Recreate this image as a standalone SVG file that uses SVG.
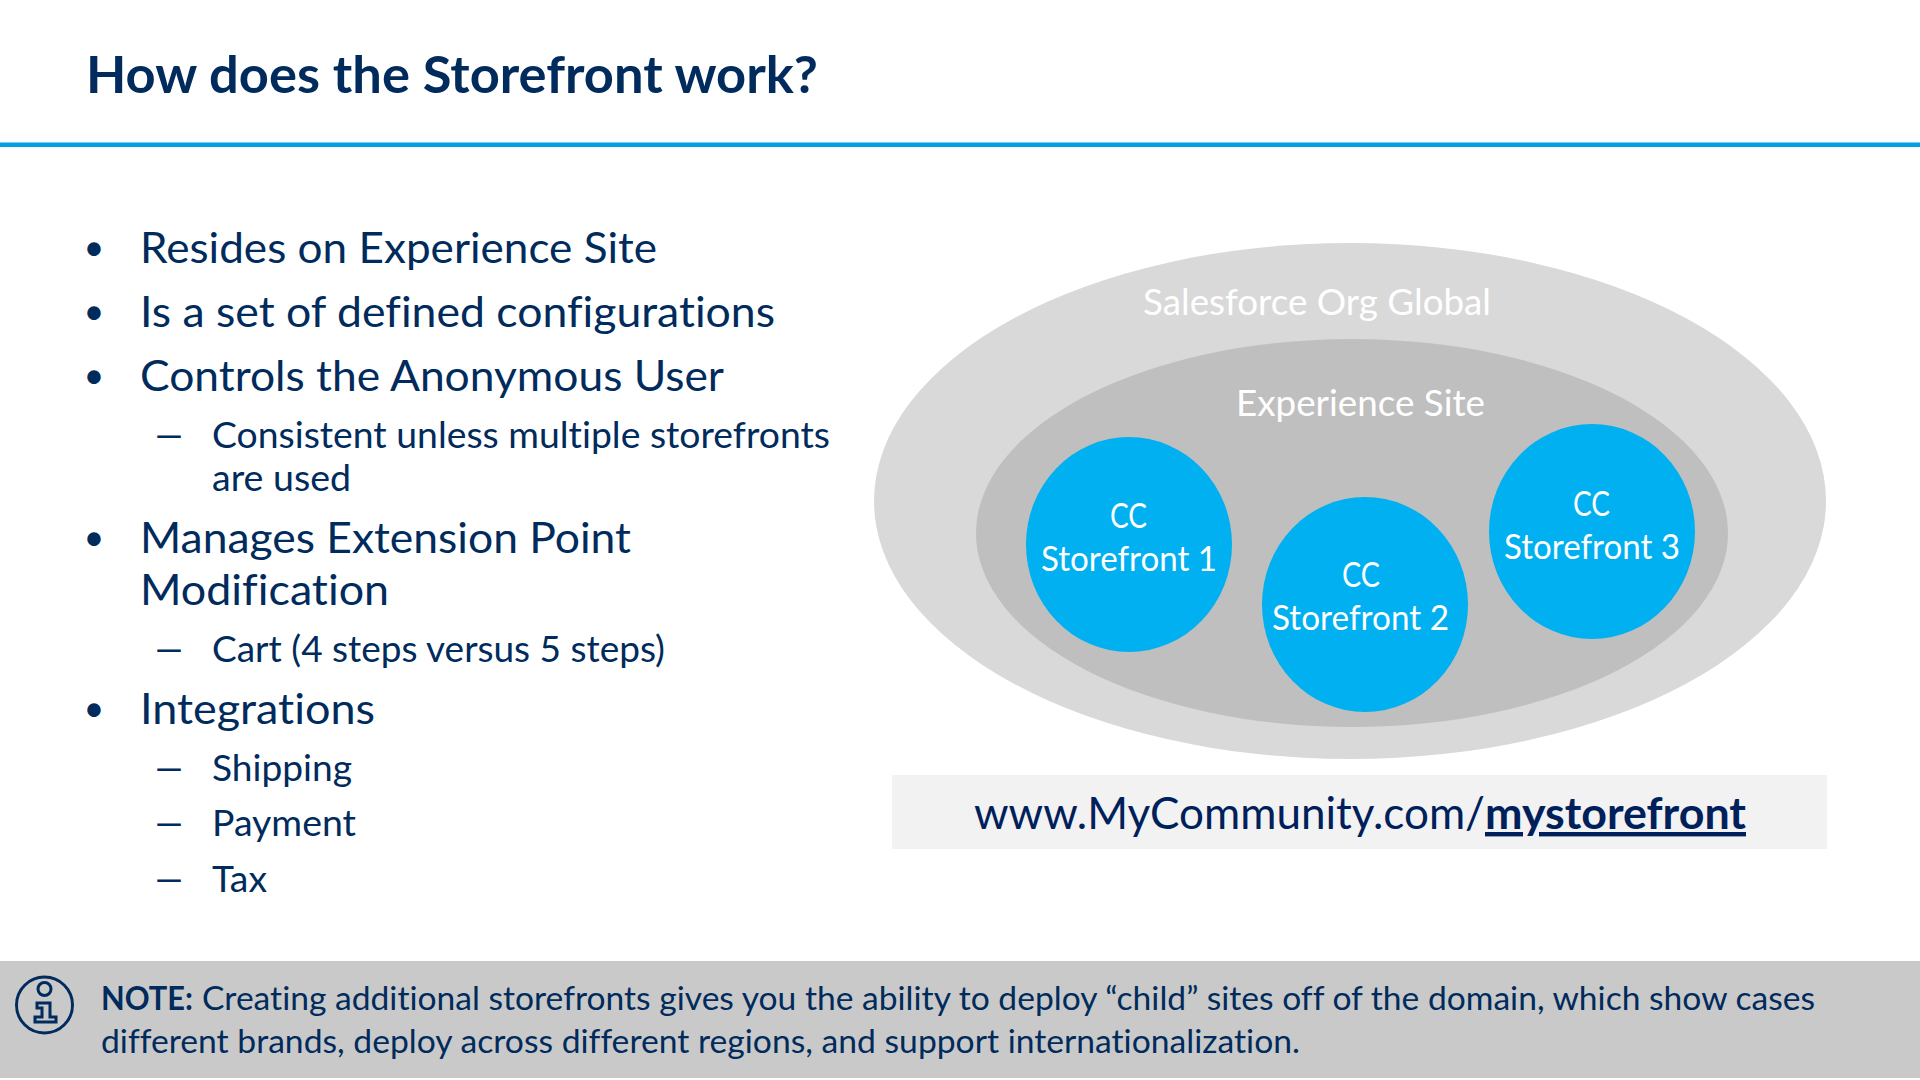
<svg xmlns="http://www.w3.org/2000/svg" width="1920" height="1080" viewBox="0 0 1920 1080">
<style>
text{font-family:Lato,"Open Sans","Liberation Sans",sans-serif;fill:#002B5C;font-variant-ligatures:none}
.t{font-size:52px;font-weight:700}
.b{font-size:43px}
.d{font-size:36px}
.s{font-size:36px}
.w{font-size:35px;fill:#fff}
.l{font-size:36px;fill:#fff}
.u{font-size:44px;fill:#00205B}
.n{font-size:33px}
</style>
<rect width="1920" height="1080" fill="#fff"/>
<g id="header">
<text class="t" x="86" y="93" textLength="732" lengthAdjust="spacingAndGlyphs">How does the Storefront work?</text>
<rect x="0" y="142.500" width="1920" height="4.500" fill="#00A1E0"/>
</g>
<g id="bullets">
<text class="d" x="83.500" y="259.500">•</text>
<text class="b" x="140" y="262.500" textLength="517" lengthAdjust="spacingAndGlyphs">Resides on Experience Site</text>
<text class="d" x="83.500" y="323.500">•</text>
<text class="b" x="140" y="326.500" textLength="635" lengthAdjust="spacingAndGlyphs">Is a set of defined configurations</text>
<text class="d" x="83.500" y="387.500">•</text>
<text class="b" x="140" y="390.500" textLength="584" lengthAdjust="spacingAndGlyphs">Controls the Anonymous User</text>
<text class="s" x="152" y="448" textLength="34" lengthAdjust="spacingAndGlyphs">–</text>
<text class="s" x="212" y="448" textLength="618" lengthAdjust="spacingAndGlyphs">Consistent unless multiple storefronts</text>
<text class="s" x="212" y="491" textLength="139" lengthAdjust="spacingAndGlyphs">are used</text>
<text class="d" x="83.500" y="549.500">•</text>
<text class="b" x="140" y="552.500" textLength="491" lengthAdjust="spacingAndGlyphs">Manages Extension Point</text>
<text class="b" x="140" y="604.500" textLength="249" lengthAdjust="spacingAndGlyphs">Modification</text>
<text class="s" x="152" y="662" textLength="34" lengthAdjust="spacingAndGlyphs">–</text>
<text class="s" x="212" y="662" textLength="453" lengthAdjust="spacingAndGlyphs">Cart (4 steps versus 5 steps)</text>
<text class="d" x="83.500" y="721">•</text>
<text class="b" x="140" y="723.500" textLength="235" lengthAdjust="spacingAndGlyphs">Integrations</text>
<text class="s" x="152" y="781" textLength="34" lengthAdjust="spacingAndGlyphs">–</text>
<text class="s" x="212" y="781" textLength="140" lengthAdjust="spacingAndGlyphs">Shipping</text>
<text class="s" x="152" y="836" textLength="34" lengthAdjust="spacingAndGlyphs">–</text>
<text class="s" x="212" y="836" textLength="144" lengthAdjust="spacingAndGlyphs">Payment</text>
<text class="s" x="152" y="892" textLength="34" lengthAdjust="spacingAndGlyphs">–</text>
<text class="s" x="212" y="892" textLength="55" lengthAdjust="spacingAndGlyphs">Tax</text>
</g>
<g id="org">
<ellipse cx="1350" cy="501" rx="476" ry="258" fill="#D9D9D9"/>
<text class="l" x="1143" y="315" textLength="348" lengthAdjust="spacingAndGlyphs">Salesforce Org Global</text>
</g>
<g id="site">
<ellipse cx="1352" cy="533" rx="376" ry="194" fill="#BFBFBF"/>
<text class="l" x="1236" y="416" textLength="249" lengthAdjust="spacingAndGlyphs">Experience Site</text>
</g>
<g id="storefront1">
<ellipse cx="1129" cy="544.500" rx="103" ry="107.500" fill="#00B0F0"/>
<text class="w" x="1110" y="528" textLength="37" lengthAdjust="spacingAndGlyphs">CC</text>
<text class="w" x="1041" y="571" textLength="176" lengthAdjust="spacingAndGlyphs">Storefront 1</text>
</g>
<g id="storefront2">
<ellipse cx="1365" cy="604.500" rx="103" ry="107.500" fill="#00B0F0"/>
<text class="w" x="1342" y="587" textLength="38" lengthAdjust="spacingAndGlyphs">CC</text>
<text class="w" x="1272" y="630" textLength="177" lengthAdjust="spacingAndGlyphs">Storefront 2</text>
</g>
<g id="storefront3">
<ellipse cx="1592" cy="531.500" rx="103" ry="107.500" fill="#00B0F0"/>
<text class="w" x="1573" y="516" textLength="37" lengthAdjust="spacingAndGlyphs">CC</text>
<text class="w" x="1504" y="559" textLength="176" lengthAdjust="spacingAndGlyphs">Storefront 3</text>
</g>
<g id="url">
<rect x="892" y="775" width="935" height="74" fill="#F2F2F2"/>
<text class="u" x="974" y="829" textLength="511" lengthAdjust="spacingAndGlyphs">www.MyCommunity.com/</text>
<text class="u" x="1485" y="829" textLength="261" lengthAdjust="spacingAndGlyphs" font-weight="700" text-decoration="underline">mystorefront</text>
</g>
<g id="note">
<rect x="0" y="961" width="1920" height="117" fill="#C9C9C9"/>
<g fill="none" stroke="#002B5C" stroke-width="3">
<circle cx="44.500" cy="1005" r="28"/>
<circle cx="44.500" cy="989" r="6.500"/>
<path d="M37 1003H50V1017H56V1022H35V1017H42V1008H37Z"/>
</g>
<text class="n" x="101" y="1010" font-weight="700" textLength="92" lengthAdjust="spacingAndGlyphs">NOTE:</text>
<text class="n" x="202" y="1010" textLength="1613" lengthAdjust="spacingAndGlyphs">Creating additional storefronts gives you the ability to deploy “child” sites off of the domain, which show cases</text>
<text class="n" x="101" y="1053" textLength="1199" lengthAdjust="spacingAndGlyphs">different brands, deploy across different regions, and support internationalization.</text>
</g>
</svg>
